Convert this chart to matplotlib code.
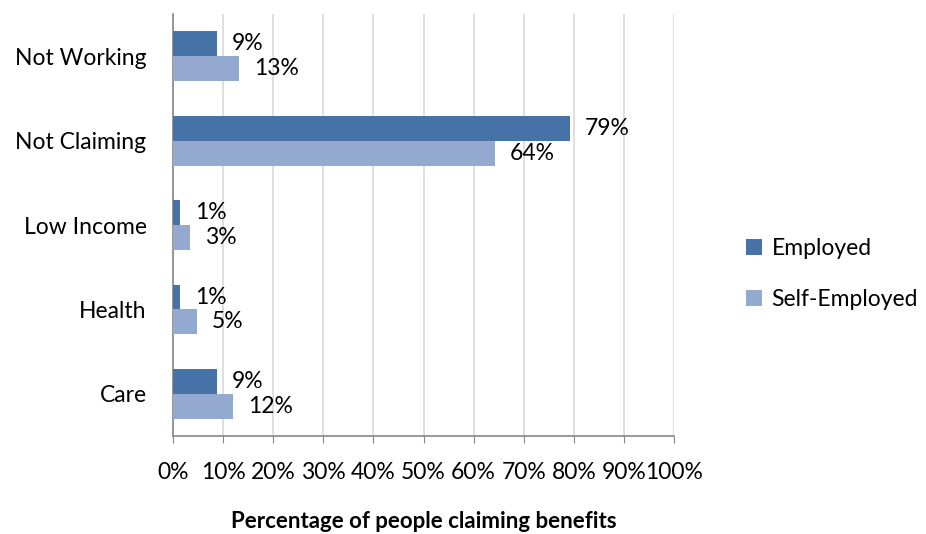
import matplotlib.pyplot as plt
import numpy as np
from matplotlib.ticker import PercentFormatter

categories = ["Not Working", "Not Claiming", "Low Income", "Health", "Care"]
employed = [8.8, 79.2, 1.4, 1.4, 8.8]
self_employed = [13.2, 64.3, 3.3, 4.8, 12.0]
series_names = ["Employed", "Self-Employed"]
colors = ["#4572a7", "#93a9cf"]

plt.rcParams["font.family"] = ["Lato", "DejaVu Sans"]

fig = plt.figure(figsize=(9.26, 5.34), dpi=100)
ax = fig.add_axes([0.1868, 0.1835, 0.5411, 0.790])

y = np.arange(len(categories))
h = 0.295
bars = []
for i, (vals, name, c) in enumerate(zip([employed, self_employed], series_names, colors)):
    pos = y - h / 2 + i * h
    b = ax.barh(pos, vals, height=h, color=c, label=name, zorder=3)
    bars.append(b)
    for p, v in zip(pos, vals):
        ax.text(v + 3, p, f"{v:.0f}%", va="center", ha="left", fontsize=16.5)

ax.set_xlim(0, 100)
ax.set_ylim(len(categories) - 0.5, -0.5)
ax.set_xticks(np.arange(0, 101, 10))
ax.xaxis.set_major_formatter(PercentFormatter(decimals=0))
ax.set_yticks(y)
ax.set_yticklabels(categories)
ax.tick_params(axis="y", which="major", length=0, pad=19, labelsize=16.5)
ax.tick_params(axis="x", length=5, color="#868686", pad=14, labelsize=16.5)
ax.grid(True, axis="x", color="#d9d9d9", linewidth=1.2, zorder=0)
for s in ["top", "right"]:
    ax.spines[s].set_visible(False)
for s in ["left", "bottom"]:
    ax.spines[s].set_color("#868686")
    ax.spines[s].set_linewidth(1.2)

ax.set_xlabel("Percentage of people claiming benefits", fontsize=16,
              fontweight="bold", labelpad=20)

fig.legend(handles=bars, labels=series_names, loc="center left",
           bbox_to_anchor=(0.806, 0.487), frameon=False, fontsize=16.5,
           borderpad=0, borderaxespad=0,
           handlelength=0.7, handleheight=0.7, handletextpad=0.4,
           labelspacing=1.3)

fig.savefig("out.png", dpi=100)
